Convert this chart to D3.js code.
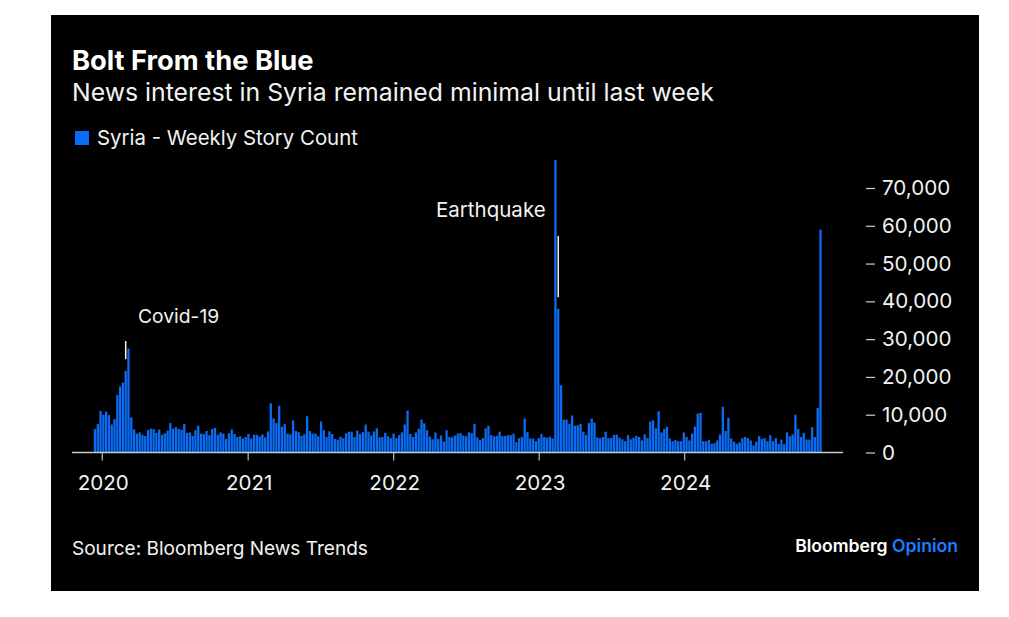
<!DOCTYPE html>
<html>
<head>
<meta charset="utf-8">
<script src="https://cdn.jsdelivr.net/npm/d3@7"></script>
<style>
html,body{margin:0;padding:0;background:#fff;}
svg{display:block;}
text{font-family:Inter,"Liberation Sans",sans-serif;}
</style>
</head>
<body>
<svg id="chart" width="1009" height="617"></svg>
<script>
const titleText = "Bolt From the Blue";
const subtitleText = "News interest in Syria remained minimal until last week";
const legendLabel = "Syria - Weekly Story Count";
const sourceText = "Source: Bloomberg News Trends";
const yTickValues = [0,10000,20000,30000,40000,50000,60000,70000];
const yearTicks = [2020,2021,2022,2023,2024];
const firstWeek = "2019-12-15";
const weeklyStoryCount = [
6200,7500,11000,10000,10800,9900,7400,8800,15200,17500,18500,21600,27500,9300,6100,5000,5300,4700,4400,5900,
6300,6200,5200,6100,4700,5100,5800,7800,6300,6700,6200,6000,7600,5200,5300,4400,5900,7100,5000,4900,
5700,4600,6200,6500,4700,5300,5000,3600,5100,6100,4900,4100,4300,3700,4100,4900,3700,4700,4700,4300,
4800,4000,5600,13000,9000,7800,12400,6800,7500,5000,4800,8500,5700,5400,4400,4800,9600,5700,5000,5000,
4300,8200,5900,4100,5600,4900,3600,3400,4200,3800,5100,5500,5500,4100,5800,4900,5400,7400,5500,4500,
5600,6400,4000,4100,5200,4300,3800,5000,3800,4600,5300,7400,11100,4900,4100,5300,6300,8700,7700,5900,
4200,3500,5300,3600,4500,2900,5900,4100,4000,4500,5000,5100,4500,4300,5300,5100,7600,4000,3300,3800,
6400,7100,4600,4300,4400,5500,4300,4400,4600,4600,5000,2700,3800,4100,9000,5400,3700,3700,3000,3800,
4900,4100,3900,4200,3700,77400,38000,17800,8700,8700,7600,9800,7100,7200,7600,5500,4600,7800,9000,7900,
4000,3800,4100,5500,3800,3900,4700,4700,3900,3500,3000,4600,3500,3900,4400,4100,3200,4800,3800,8200,
8500,6400,10900,5300,6200,6800,3700,3000,3300,3000,3000,5300,4100,3200,5000,6900,10300,10500,3000,3000,
3300,2300,2500,3200,4800,12100,5700,9200,3700,2900,2300,2700,3800,4100,3800,3200,1900,2900,4300,3600,
3800,3000,4600,3000,3800,2300,3400,2200,5300,4300,4800,10000,6200,4100,5200,3400,3400,6700,4100,11800,
59000
];
const annotations = [
  {label:"Covid-19", week:11, from:24700, to:29500},
  {label:"Earthquake", week:166, from:41100, to:57300}
];

const BLUE = "#0a6cf5";
const svg = d3.select("#chart");
svg.append("rect").attr("x",51).attr("y",15).attr("width",928).attr("height",576).attr("fill","#000");

const weeks = d3.timeWeek.range(new Date(firstWeek+"T00:00:00"), new Date(2025,0,1)).slice(0, weeklyStoryCount.length);
const x = d3.scaleTime().domain([weeks[0], weeks[weeks.length-1]]).range([95, 820.5]);
const y = d3.scaleLinear().domain([0,70000]).range([452.5,188]);

// bars
svg.append("g").selectAll("rect").data(weeklyStoryCount).join("rect")
  .attr("x",(d,i)=>x(weeks[i])-1.15).attr("width",2.3)
  .attr("y",d=>y(d)).attr("height",d=>y(0)-y(d)).attr("fill",BLUE);

// x axis
const xAxis = d3.axisBottom(x)
  .tickValues(yearTicks.map(yr=>new Date(yr,0,1)))
  .tickFormat(d3.timeFormat("%Y")).tickSize(8).tickPadding(14.5);
const gx = svg.append("g").attr("transform",`translate(0,${y(0)})`).call(xAxis);
gx.select(".domain").remove();
gx.selectAll(".tick line").attr("stroke","#bdbdbd").attr("stroke-width",1.2);
gx.selectAll(".tick text").attr("fill","#f2f2f2").attr("dx",1).style("font-size","20.6px");
svg.append("line").attr("x1",72).attr("x2",843).attr("y1",y(0)).attr("y2",y(0)).attr("stroke","#c8c8c8").attr("stroke-width",1.4);

// y axis
const yAxis = d3.axisRight(y).tickValues(yTickValues).tickFormat(d3.format(",")).tickSize(9).tickPadding(7);
const gy = svg.append("g").attr("transform","translate(866,0)").call(yAxis);
gy.select(".domain").remove();
gy.selectAll(".tick line").attr("stroke","#d0d0d0").attr("stroke-width",1.2);
gy.selectAll(".tick text").attr("fill","#f2f2f2").style("font-size","20.6px");

// annotations
svg.append("g").selectAll("line").data(annotations).join("line")
  .attr("x1",d=>x(weeks[d.week])).attr("x2",d=>x(weeks[d.week]))
  .attr("y1",d=>y(d.from)).attr("y2",d=>y(d.to))
  .attr("stroke","#f5f5f5").attr("stroke-width",1.5);
svg.append("text").text(annotations[0].label).attr("x",138).attr("y",323).attr("fill","#f2f2f2").style("font-size","19.3px");
svg.append("text").text(annotations[1].label).attr("x",436).attr("y",217).attr("fill","#f2f2f2").style("font-size","20.5px");

// titles
svg.append("text").text(titleText).attr("x",72).attr("y",70).attr("fill","#fff").style("font-size","27.3px").style("font-weight",700);
svg.append("text").text(subtitleText).attr("x",72).attr("y",101).attr("fill","#f2f2f2").style("font-size","24.8px");

// legend
svg.append("rect").attr("x",75).attr("y",131).attr("width",14).attr("height",14).attr("fill",BLUE);
svg.append("text").text(legendLabel).attr("x",97).attr("y",145).attr("fill","#f2f2f2").style("font-size","20.4px");

// source & logo
svg.append("text").text(sourceText).attr("x",72).attr("y",555).attr("fill","#f2f2f2").style("font-size","19.05px");
const logo = svg.append("text").attr("x",958).attr("y",552).attr("text-anchor","end").style("font-size","17.6px").style("font-weight",600);
logo.append("tspan").text("Bloomberg ").attr("fill","#fff");
logo.append("tspan").text("Opinion").attr("fill","#1a7fff");
</script>
</body>
</html>
